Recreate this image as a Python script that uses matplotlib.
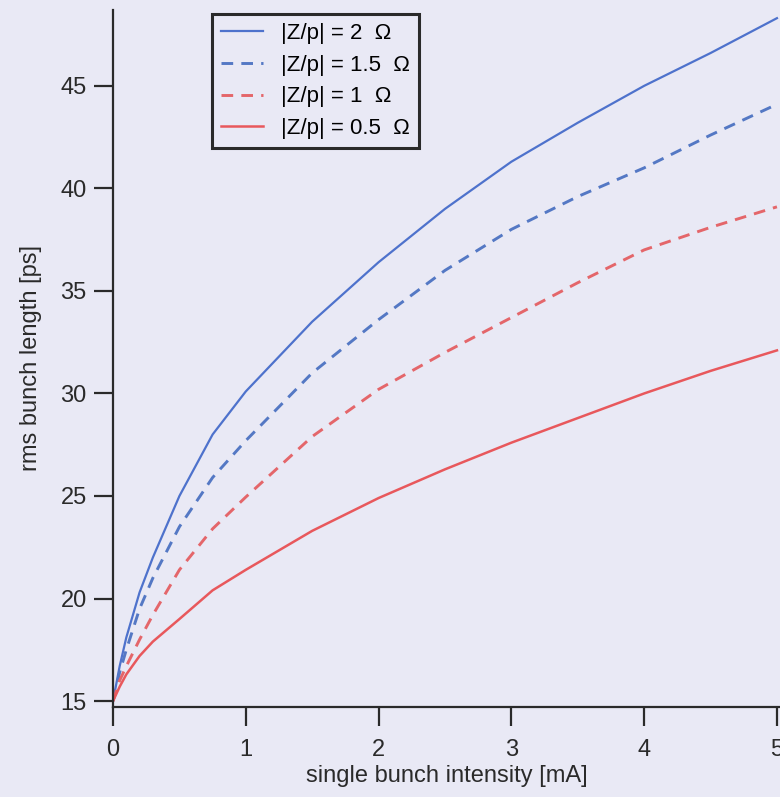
import numpy as np
from matplotlib import pyplot as plt

plt.rcParams['font.family'] = ['Liberation Sans', 'DejaVu Sans']

# single bunch current [mA]
current = [0, 0.05, 0.1, 0.2, 0.3, 0.5, 0.75, 1, 1.5, 2, 2.5, 3, 3.5, 4, 4.5, 5]

# rms bunch length [ps] for each |Z/p|
sig_z2 = [15.0, 16.7, 18.1, 20.3, 22.0, 25.0, 28.0, 30.1, 33.5, 36.4, 39.0, 41.3, 43.2, 45.0, 46.6, 48.3]
sig_z15 = [15.0, 16.4, 17.5, 19.5, 21.0, 23.5, 25.9, 27.7, 31.0, 33.6, 36.0, 38.0, 39.6, 41.0, 42.6, 44.1]
sig_z1 = [15.0, 16.0, 16.7, 18.0, 19.2, 21.4, 23.4, 24.95, 27.9, 30.2, 32.0, 33.7, 35.4, 37.0, 38.1, 39.1]
sig_z05 = [15.0, 15.7, 16.3, 17.2, 17.9, 19.0, 20.4, 21.4, 23.3, 24.9, 26.3, 27.6, 28.8, 30.0, 31.1, 32.1]

labels = ["|Z/p| = 2  Ω", "|Z/p| = 1.5  Ω", "|Z/p| = 1  Ω", "|Z/p| = 0.5  Ω"]
xticks = [0, 1, 2, 3, 4, 5]
yticks = [15, 20, 25, 30, 35, 40, 45]

bg = '#e9e9f5'
ink = '#2a2a2a'
blue = '#4e72cc'
red = '#e8585c'

fig = plt.figure(figsize=(7.8, 7.97), dpi=100, facecolor=bg)
ax = fig.add_axes([0.1449, 0.1129, 0.8551, 0.8746])
ax.set_facecolor(bg)

ax.plot(current, sig_z2, color=blue, lw=1.6, label=labels[0])
ax.plot(current, sig_z15, color='#5478c4', lw=2.1, linestyle=(0, (4, 2.8)), label=labels[1])
ax.plot(current, sig_z1, color='#e4666a', lw=2.1, linestyle=(0, (4, 2.8)), label=labels[2])
ax.plot(current, sig_z05, color=red, lw=1.8, label=labels[3])

ax.set_xlim(0, 5.023)
ax.set_ylim(14.71, 48.7)
ax.set_xticks(xticks)
ax.set_yticks(yticks)

for s in ['top', 'right']:
    ax.spines[s].set_visible(False)
for s in ['left', 'bottom']:
    ax.spines[s].set_linewidth(1.6)
    ax.spines[s].set_color(ink)

ax.tick_params(axis='x', direction='out', length=14, width=1.6, pad=9, labelsize=17, colors=ink)
ax.tick_params(axis='y', direction='out', length=14, width=1.6, pad=5, labelsize=17, colors=ink)

ax.set_xlabel('single bunch intensity [mA]', fontsize=17, labelpad=3, color=ink)
ax.set_ylabel('rms bunch length [ps]', fontsize=17, labelpad=13, color=ink)

leg = ax.legend(loc='upper left', bbox_to_anchor=(0.148, 0.994), borderaxespad=0,
                fontsize=16, fancybox=False, framealpha=1, facecolor=bg, edgecolor=ink,
                handlelength=1.9, handletextpad=0.8, borderpad=0.4, labelspacing=0.48)
leg.get_frame().set_linewidth(2.2)

fig.savefig('out.png', dpi=100, facecolor=bg)
